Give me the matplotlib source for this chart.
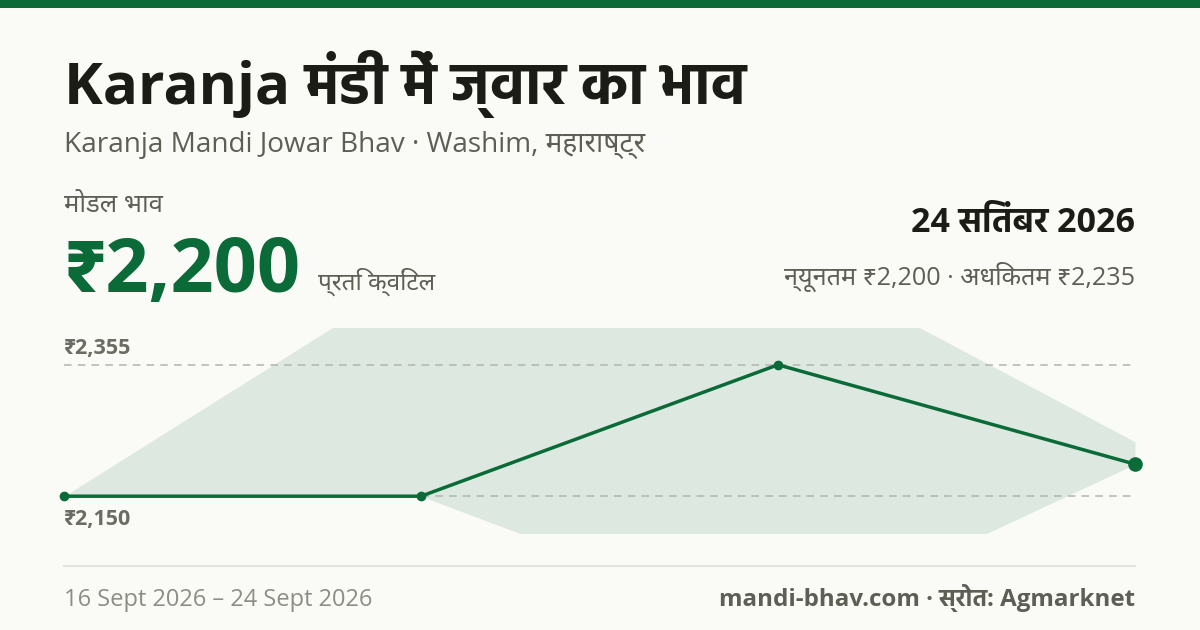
import matplotlib
matplotlib.use("Agg")
import matplotlib.pyplot as plt
from matplotlib.patches import Rectangle

# Noto Sans files here are variable fonts (no bold), so use static families
REG = ['Open Sans', 'Noto Sans Devanagari', 'DejaVu Sans']
BOLD = ['Open Sans', 'Hind', 'DejaVu Sans']
plt.rcParams['font.family'] = REG

# ---- data ----
modal_price = [2150, 2150, 2355, 2200]
min_price = [2150, 2150, 1940, 2200]
max_price = [2150, 2500, 2530, 2235]
start_date = "16 Sept 2026"
end_date = "24 Sept 2026"
latest_date = "24 सितंबर 2026"

title = "Karanja मंडी में ज्वार का भाव"
subtitle = "Karanja Mandi Jowar Bhav · Washim, महाराष्ट्र"
source = "mandi-bhav.com · स्रोत: Agmarknet"

GREEN = "#0b6b38"
BG = "#fafbf7"
DARK = "#1b1c16"
GREY = "#5d5e54"
LIGHT = "#8c8d84"
BAND = "#dde9e0"

W, H = 1200, 630
fig = plt.figure(figsize=(W / 100, H / 100), dpi=100, facecolor=BG)


def fx(px):
    return px / W


def fy(py):
    return 1 - py / H


def money(v):
    return f"₹{v:,.0f}"


# top bar
fig.add_artist(Rectangle((0, fy(8)), 1, 8 / H, transform=fig.transFigure,
                         color=GREEN, lw=0))

# header texts
fig.text(fx(64), fy(104), title, fontsize=42, fontweight="bold", family=BOLD,
         color=DARK, va="baseline")
fig.text(fx(64), fy(152), subtitle, fontsize=20.2, color=GREY, va="baseline")
fig.text(fx(64), fy(212), "मोडल भाव", fontsize=18.5, color=GREY, va="baseline")
fig.text(fx(64), fy(292), money(modal_price[-1]), fontsize=54.5, fontweight="bold",
         family=BOLD, color=GREEN, va="baseline")
fig.text(fx(318), fy(290), "प्रति क्विंटल", fontsize=17.5, color=GREY, va="baseline")

fig.text(fx(1135), fy(232), latest_date, fontsize=24.5, fontweight="bold", family=BOLD,
         color=DARK, va="baseline", ha="right")
fig.text(fx(1135), fy(285),
         f"न्यूनतम {money(min_price[-1])} · अधिकतम {money(max_price[-1])}",
         fontsize=18.2, color=GREY, va="baseline", ha="right")

# chart
ax = fig.add_axes([fx(64), fy(533), fx(1135) - fx(64), (533 - 328) / H])
ax.set_facecolor("none")
x = list(range(len(modal_price)))
lo, hi = min(modal_price), max(modal_price)
pad = 0.28 * (hi - lo)
ax.set_xlim(0, len(x) - 1)
ax.set_ylim(lo - pad, hi + pad)

ax.fill_between(x, min_price, max_price, color=BAND, lw=0, zorder=1)
for v in (hi, lo):
    ax.axhline(v, color="#b3b4ab", lw=1.1, dashes=(5, 4), zorder=2)
ax.plot(x, modal_price, color=GREEN, lw=2.5, zorder=3, solid_capstyle="round")
ax.plot(x[:-1], modal_price[:-1], "o", color=GREEN, ms=6, zorder=4, clip_on=False)
ax.plot(x[-1], modal_price[-1], "o", color=GREEN, ms=9.5, zorder=4, clip_on=False)

ax.annotate(money(hi), xy=(0, hi), xytext=(0, 8), textcoords="offset points",
            fontsize=15.5, fontweight="bold", family=BOLD, color="#6b6c62", va="baseline")
ax.annotate(money(lo), xy=(0, lo), xytext=(0, -21), textcoords="offset points",
            fontsize=15.5, fontweight="bold", family=BOLD, color="#6b6c62", va="baseline")
ax.axis("off")

# footer
fig.add_artist(plt.Line2D([fx(64), fx(1135)], [fy(566), fy(566)],
                          transform=fig.transFigure, color="#e3e4de", lw=1.5))
fig.text(fx(64), fy(606), f"{start_date} – {end_date}", fontsize=17, color=LIGHT,
         va="baseline")
fig.text(fx(1135), fy(606), source, fontsize=17.4, fontweight="bold", family=BOLD,
         color=GREY, va="baseline", ha="right")

fig.savefig("out.png", dpi=100, facecolor=BG)
